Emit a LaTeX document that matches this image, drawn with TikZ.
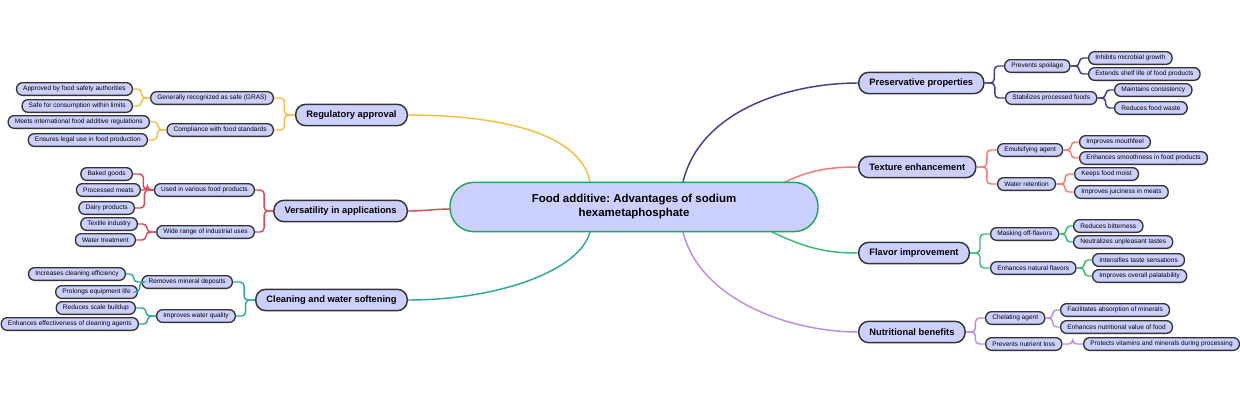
\documentclass[tikz,border=0pt]{standalone}
\usepackage{fontspec}
\setmainfont{Liberation Sans}
\usetikzlibrary{calc}
\frenchspacing
\definecolor{nodefill}{HTML}{CCD0FF}
\definecolor{bordc}{HTML}{333333}
\definecolor{cnavy}{HTML}{40408A}
\definecolor{csalmon}{HTML}{F87878}
\definecolor{cgreen}{HTML}{3CB878}
\definecolor{cpurple}{HTML}{B88EE0}
\definecolor{corange}{HTML}{F0C040}
\definecolor{cred}{HTML}{E04858}
\definecolor{cteal}{HTML}{30A898}
\definecolor{ccenter}{HTML}{22A55A}
\tikzset{
  leaf/.style={draw=bordc,line width=1pt,fill=nodefill,rounded corners=4.5pt,minimum height=9.5pt,inner xsep=5pt,inner ysep=1pt,font=\fontsize{4.9}{5.3}\selectfont},
  sub/.style={leaf},
  branch/.style={draw=bordc,line width=1.1pt,fill=nodefill,rounded corners=7.5pt,minimum height=16pt,inner xsep=8pt,font=\fontsize{7}{8}\selectfont\bfseries},
  centre/.style={draw=ccenter,line width=1.1pt,fill=nodefill,rounded corners=18pt,minimum height=37pt,minimum width=276pt,align=center,font=\fontsize{8.6}{10.5}\selectfont\bfseries},
  ln/.style={line width=1.1pt,rounded corners=3pt},
}
\newcommand\mmR[3]{\draw[ln,#1] (#2.east) -- ($(#2.east)!.5!(#2.east-|#3.west)$) |- (#3.west);}
\newcommand\mmL[3]{\draw[ln,#1] (#2.west) -- ($(#2.west)!.5!(#2.west-|#3.east)$) |- (#3.east);}
\begin{document}
\begin{tikzpicture}[x=0.75pt,y=-0.75pt]
\useasboundingbox (0,0) rectangle (1240,400);
\coordinate (k1) at (683,182);
\coordinate (k2) at (785,182);
\coordinate (k3) at (772,232);
\coordinate (k4) at (683,232);
\coordinate (k5) at (590,182);
\coordinate (k6) at (450,209);
\coordinate (k7) at (590,232);
% main curves
\draw[ln,cnavy] (k1) .. controls (700,110) and (790,83) .. (858,83);
\draw[ln,csalmon] (k2) .. controls (810,170) and (830,167) .. (858,167);
\draw[ln,cgreen] (k3) .. controls (810,250) and (830,253) .. (858,253);
\draw[ln,cpurple] (k4) .. controls (700,300) and (790,332) .. (858,332);
\draw[ln,corange] (408,115) .. controls (490,115) and (580,130) .. (k5);
\draw[ln,cred] (408,211) .. controls (425,211) and (435,209) .. (k6);
\draw[ln,cteal] (408,300) .. controls (500,300) and (580,270) .. (k7);
\node[centre] (c) at (634,207) {Food additive: Advantages of sodium\\hexametaphosphate};
% right branches
\node[branch,anchor=west] (b1) at (858,83) {Preservative properties};
\node[sub,anchor=west] (b1a) at (1004,66) {Prevents spoilage};
\node[leaf,anchor=west] (b1a1) at (1088,58) {Inhibits microbial growth};
\node[leaf,anchor=west] (b1a2) at (1088,74) {Extends shelf life of food products};
\node[sub,anchor=west] (b1b) at (1005,98) {Stabilizes processed foods};
\node[leaf,anchor=west] (b1b1) at (1114,90) {Maintains consistency};
\node[leaf,anchor=west] (b1b2) at (1114,108) {Reduces food waste};
\mmR{cnavy}{b1}{b1a}\mmR{cnavy}{b1}{b1b}
\mmR{cnavy}{b1a}{b1a1}\mmR{cnavy}{b1a}{b1a2}
\mmR{cnavy}{b1b}{b1b1}\mmR{cnavy}{b1b}{b1b2}

\node[branch,anchor=west] (b2) at (858,167) {Texture enhancement};
\node[sub,anchor=west] (b2a) at (997,150) {Emulsifying agent};
\node[leaf,anchor=west] (b2a1) at (1079,142) {Improves mouthfeel};
\node[leaf,anchor=west] (b2a2) at (1079,158) {Enhances smoothness in food products};
\node[sub,anchor=west] (b2b) at (997,184) {Water retention};
\node[leaf,anchor=west] (b2b1) at (1074,174) {Keeps food moist};
\node[leaf,anchor=west] (b2b2) at (1074,192) {Improves juiciness in meats};
\mmR{csalmon}{b2}{b2a}\mmR{csalmon}{b2}{b2b}
\mmR{csalmon}{b2a}{b2a1}\mmR{csalmon}{b2a}{b2a2}
\mmR{csalmon}{b2b}{b2b1}\mmR{csalmon}{b2b}{b2b2}

\node[branch,anchor=west] (b3) at (858,253) {Flavor improvement};
\node[sub,anchor=west] (b3a) at (990,234) {Masking off-flavors};
\node[leaf,anchor=west] (b3a1) at (1073,226) {Reduces bitterness};
\node[leaf,anchor=west] (b3a2) at (1073,242) {Neutralizes unpleasant tastes};
\node[sub,anchor=west] (b3b) at (990,268) {Enhances natural flavors};
\node[leaf,anchor=west] (b3b1) at (1092,260) {Intensifies taste sensations};
\node[leaf,anchor=west] (b3b2) at (1092,276) {Improves overall palatability};
\mmR{cgreen}{b3}{b3a}\mmR{cgreen}{b3}{b3b}
\mmR{cgreen}{b3a}{b3a1}\mmR{cgreen}{b3a}{b3a2}
\mmR{cgreen}{b3b}{b3b1}\mmR{cgreen}{b3b}{b3b2}

\node[branch,anchor=west] (b4) at (858,332) {Nutritional benefits};
\node[sub,anchor=west] (b4a) at (985,318) {Chelating agent};
\node[leaf,anchor=west] (b4a1) at (1060,310) {Facilitates absorption of minerals};
\node[leaf,anchor=west] (b4a2) at (1060,327) {Enhances nutritional value of food};
\node[sub,anchor=west] (b4b) at (985,344) {Prevents nutrient loss};
\node[leaf,anchor=west] (b4b1) at (1083,344) {Protects vitamins and minerals during processing};
\mmR{cpurple}{b4}{b4a}\mmR{cpurple}{b4}{b4b}
\mmR{cpurple}{b4a}{b4a1}\mmR{cpurple}{b4a}{b4a2}
\mmR{cpurple}{b4b}{b4b1}

% left branches
\node[branch,anchor=east] (l1) at (408,115) {Regulatory approval};
\node[sub,anchor=east] (l1a) at (274,98) {Generally recognized as safe (GRAS)};
\node[leaf,anchor=east] (l1a1) at (133,89) {Approved by food safety authorities};
\node[leaf,anchor=east] (l1a2) at (133,106) {Safe for consumption within limits};
\node[sub,anchor=east] (l1b) at (274,130) {Compliance with food standards};
\node[leaf,anchor=east] (l1b1) at (150,122) {Meets international food additive regulations};
\node[leaf,anchor=east] (l1b2) at (148,140) {Ensures legal use in food production};
\mmL{corange}{l1}{l1a}\mmL{corange}{l1}{l1b}
\mmL{corange}{l1a}{l1a1}\mmL{corange}{l1a}{l1a2}
\mmL{corange}{l1b}{l1b1}\mmL{corange}{l1b}{l1b2}

\node[branch,anchor=east] (l2) at (408,211) {Versatility in applications};
\node[sub,anchor=east] (l2a) at (255,190) {Used in various food products};
\node[leaf,anchor=east] (l2a1) at (133,174) {Baked goods};
\node[leaf,anchor=east] (l2a2) at (141,190) {Processed meats};
\node[leaf,anchor=east] (l2a3) at (135,208) {Dairy products};
\node[sub,anchor=east] (l2b) at (255,232) {Wide range of industrial uses};
\node[leaf,anchor=east] (l2b1) at (138,224) {Textile industry};
\node[leaf,anchor=east] (l2b2) at (136,240) {Water treatment};
\mmL{cred}{l2}{l2a}\mmL{cred}{l2}{l2b}
\mmL{cred}{l2a}{l2a1}\mmL{cred}{l2a}{l2a2}\mmL{cred}{l2a}{l2a3}
\mmL{cred}{l2b}{l2b1}\mmL{cred}{l2b}{l2b2}

\node[branch,anchor=east] (l3) at (408,300) {Cleaning and water softening};
\node[sub,anchor=east] (l3a) at (233,282) {Removes mineral deposits};
\node[leaf,anchor=east] (l3a1) at (126,274) {Increases cleaning efficiency};
\node[leaf,anchor=east] (l3a2) at (138,292) {Prolongs equipment life};
\node[sub,anchor=east] (l3b) at (236,316) {Improves water quality};
\node[leaf,anchor=east] (l3b1) at (136,308) {Reduces scale buildup};
\node[leaf,anchor=east] (l3b2) at (139,324) {Enhances effectiveness of cleaning agents};
\mmL{cteal}{l3}{l3a}\mmL{cteal}{l3}{l3b}
\mmL{cteal}{l3a}{l3a1}\mmL{cteal}{l3a}{l3a2}
\mmL{cteal}{l3b}{l3b1}\mmL{cteal}{l3b}{l3b2}
\end{tikzpicture}
\end{document}
